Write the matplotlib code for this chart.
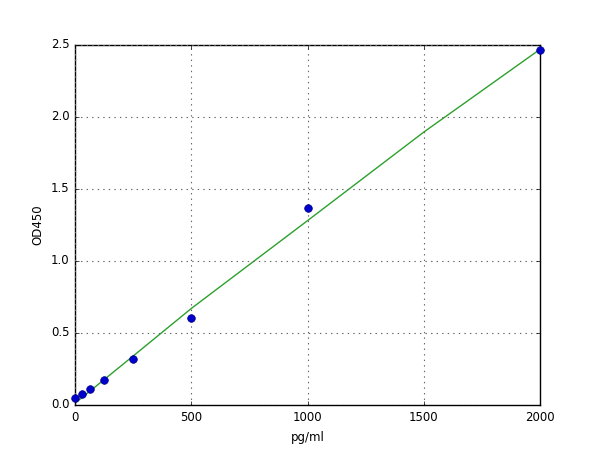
import matplotlib
matplotlib.use("Agg")
import matplotlib.pyplot as plt

plt.style.use("classic")

conc = [0, 31.25, 62.5, 125, 250, 500, 1000, 2000]
od = [0.048, 0.078, 0.110, 0.173, 0.316, 0.602, 1.365, 2.465]

fit_x = [0, 250, 500, 1000, 1500, 2000]
fit_y = [0.012, 0.34, 0.67, 1.28, 1.895, 2.47]

x_ticks = [0, 500, 1000, 1500, 2000]
y_ticks = [0.0, 0.5, 1.0, 1.5, 2.0, 2.5]

fig = plt.figure(figsize=(6, 4.5), dpi=100)
ax = fig.add_subplot(111)
fig.subplots_adjust(left=0.125, right=0.9, bottom=0.1, top=0.9)

ax.plot(fit_x, fit_y, color="#2ca02c", linewidth=1.0, zorder=2)
ax.plot(conc, od, "o", color="#0000cc", markeredgecolor="#000080",
        markersize=5.5, markeredgewidth=0.5, zorder=3, clip_on=False)

ax.set_xlim(0, 2000)
ax.set_ylim(0, 2.5)
ax.set_xticks(x_ticks)
ax.set_yticks(y_ticks)
ax.set_xticklabels([str(t) for t in x_ticks])
ax.set_yticklabels(["%.1f" % t for t in y_ticks])
ax.tick_params(labelsize=8.5, direction="in", length=3)
ax.grid(True, linestyle=":", color="#666666", linewidth=0.8)
ax.set_xlabel("pg/ml", fontsize=8.5)
ax.set_ylabel("OD450", fontsize=8.5)

fig.savefig("out.png", dpi=100, facecolor="white")
